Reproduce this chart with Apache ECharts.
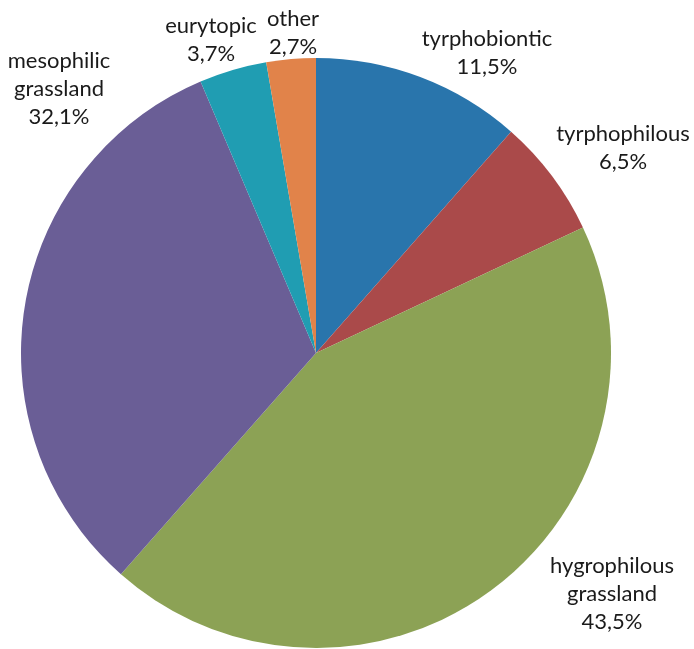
<!DOCTYPE html>
<html>
<head>
<meta charset="utf-8">
<script src="https://cdn.jsdelivr.net/npm/echarts@6/dist/echarts.min.js"></script>
<style>html,body{margin:0;padding:0;background:#fff}#c{width:694px;height:649px}</style>
</head>
<body>
<div id="c"></div>
<script>
const categories = ['tyrphobiontic', 'tyrphophilous', 'hygrophilous\ngrassland', 'mesophilic\ngrassland', 'eurytopic', 'other'];
const values = [11.5, 6.5, 43.5, 32.1, 3.7, 2.7];
const colors = ['#2975AC', '#AA4A4A', '#8CA255', '#6A5E96', '#209DB2', '#E1834A'];
const labelCenters = [[487, 53], [623, 148], [612, 594], [59, 89], [211, 40], [293, 33]];

const chart = echarts.init(document.getElementById('c'));
chart.setOption({
  animation: false,
  series: [{
    type: 'pie',
    center: [316, 353],
    radius: [0, 295],
    startAngle: 90,
    clockwise: true,
    data: categories.map((n, i) => ({ name: n, value: values[i], itemStyle: { color: colors[i] } })),
    itemStyle: { borderWidth: 0 },
    label: {
      show: true,
      position: 'outside',
      formatter: p => p.name + '\n' + String(p.value).replace('.', ',') + '%',
      fontFamily: 'Lato',
      fontSize: 22,
      lineHeight: 28,
      color: '#1a1a1a',
      align: 'center',
      overflow: 'none',
      width: 200
    },
    labelLine: { show: false },
    labelLayout: p => ({
      x: labelCenters[p.dataIndex][0],
      y: labelCenters[p.dataIndex][1],
      align: 'center',
      verticalAlign: 'middle',
      hideOverlap: false
    }),
    emphasis: { disabled: true }
  }]
});
</script>
</body>
</html>
